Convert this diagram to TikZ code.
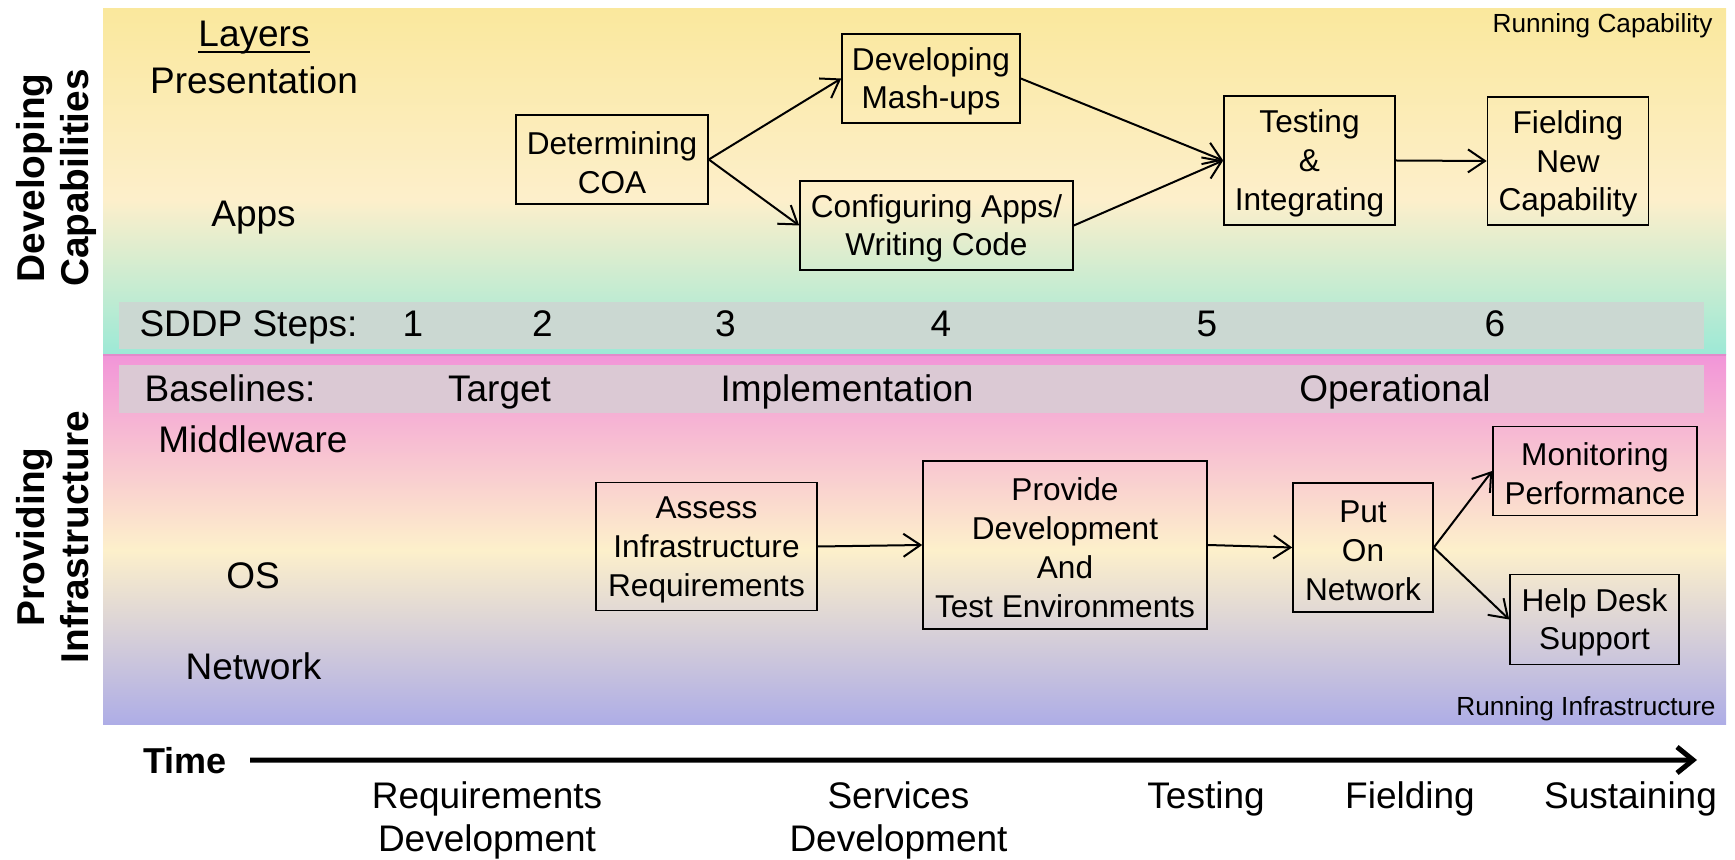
\documentclass[tikz,border=0pt]{standalone}
\usepackage{fontspec}
\setmainfont{Liberation Sans}
\usetikzlibrary{arrows.meta}
\definecolor{uptop}{HTML}{FAE89D}
\definecolor{upmid}{HTML}{FDEFCB}
\definecolor{upbot}{HTML}{9CE9D6}
\definecolor{lotop}{HTML}{F295D8}
\definecolor{lomid}{HTML}{FDF0CB}
\definecolor{lobot}{HTML}{AEADE6}
\definecolor{bandA}{HTML}{CBD8D2}
\definecolor{bandB}{HTML}{DBC9D4}
\definecolor{sepline}{HTML}{E28ACB}
\pgfdeclareverticalshading{uppershade}{100bp}{color(0bp)=(upbot); color(25bp)=(upbot); color(47.4bp)=(upmid); color(75bp)=(uptop); color(100bp)=(uptop)}
\pgfdeclareverticalshading{lowershade}{100bp}{color(0bp)=(lobot); color(25bp)=(lobot); color(48.6bp)=(lomid); color(75bp)=(lotop); color(100bp)=(lotop)}
\newcommand{\myul}[1]{\setbox0\hbox{#1}\rlap{\rule[-3.3pt]{\wd0}{1.1pt}}\box0}
\newcommand{\fstrut}{\rule{0pt}{14.3pt}}
\begin{document}
\begin{tikzpicture}[x=0.5pt,y=-0.5pt,
  lbl/.style={font=\fontsize{18.5}{22}\selectfont, inner sep=0pt, anchor=base},
  twolbl/.style={font=\fontsize{18.5}{21.5}\selectfont, inner sep=0pt, anchor=north, align=center},
  boxnode/.style={draw, line width=0.8pt, align=center, inner sep=0pt, font=\fontsize{15.8}{19.4}\selectfont},
  arr/.style={line width=1pt, -{Straight Barb[length=8.5pt,width=11.5pt]}},
  side/.style={rotate=90, align=center, inner sep=0pt, font=\fontsize{19.4}{22}\selectfont\bfseries},
  small/.style={font=\fontsize{13.1}{15}\selectfont, inner sep=0pt, anchor=base east}
]
\useasboundingbox (0,0) rectangle (1735,860);
% panels
\shade[shading=uppershade] (103,9) rectangle (1726,355);
\shade[shading=lowershade] (103,355) rectangle (1726,724);
\draw[sepline, line width=1pt] (103,355) -- (1726,355);
\fill[bandA] (119,302) rectangle (1704,349);
\fill[bandB] (119,365) rectangle (1704,413);
% side labels
\node[side] (devcap) at (56.5,178) {Developing\\Capabilities};
\node[side] (provinf) at (53,537) {Providing\\Infrastructure};
% layer labels
\node[lbl] (layers) at (254,46.5) {\myul{Layers}};
\node[lbl] (pres) at (254,93.5) {Presentation};
\node[lbl] (apps) at (253.5,226.5) {Apps};
\node[lbl] (mid) at (253,453) {Middleware};
\node[lbl] (os) at (253,589) {OS};
\node[lbl] (net) at (253.5,680) {Network};
% SDDP steps
\node[lbl] (sddp) at (248.5,337) {SDDP Steps:};
\node[lbl] (s1) at (413,337) {1};
\node[lbl] (s2) at (542.5,337) {2};
\node[lbl] (s3) at (725.5,337) {3};
\node[lbl] (s4) at (941,337) {4};
\node[lbl] (s5) at (1207,337) {5};
\node[lbl] (s6) at (1495,337) {6};
% baselines
\node[lbl] (base) at (230,402) {Baselines:};
\node[lbl] (target) at (499.5,402) {Target};
\node[lbl] (impl) at (847,402) {Implementation};
\node[lbl] (oper) at (1395,402) {Operational};
% running labels
\node[small] (runcap) at (1713,33) {Running Capability};
\node[small] (runinf) at (1716,715) {Running Infrastructure};
% upper boxes
\node[boxnode, minimum width=96pt, minimum height=44.5pt] (coa) at (612,159.5) {\fstrut Determining\\COA};
\node[boxnode, minimum width=89pt, minimum height=44.5pt] (mash) at (931,78.5) {\fstrut Developing\\Mash-ups};
\node[boxnode, minimum width=136.5pt, minimum height=44.5pt] (conf) at (936.5,225.5) {\fstrut Configuring Apps/\\Writing Code};
\node[boxnode, minimum width=85.5pt, minimum height=64.5pt] (test) at (1309.5,160.5) {\fstrut Testing\\\&\\Integrating};
\node[boxnode, minimum width=80.5pt, minimum height=64pt] (field) at (1568,161) {\fstrut Fielding\\New\\Capability};
% lower boxes
\node[boxnode, minimum width=110.5pt, minimum height=64pt] (assess) at (706.5,546.5) {\fstrut Assess\\Infrastructure\\Requirements};
\node[boxnode, minimum width=142pt, minimum height=84pt] (provide) at (1065,545) {\fstrut Provide\\Development\\And\\Test Environments};
\node[boxnode, minimum width=70pt, minimum height=64.5pt] (put) at (1363,547.5) {\fstrut Put\\On\\Network};
\node[boxnode, minimum width=102pt, minimum height=44.5pt] (mon) at (1595,471) {\fstrut Monitoring\\Performance};
\node[boxnode, minimum width=84.5pt, minimum height=45pt] (help) at (1594.5,619.5) {\fstrut Help Desk\\Support};
% connectors
\draw[arr] (coa.east) -- (mash.west);
\draw[arr] (coa.east) -- (conf.west);
\draw[arr] (mash.east) -- (test.west);
\draw[arr] (conf.east) -- (test.west);
\draw[arr] (test.east) -- (field.west);
\draw[arr] (assess.east) -- (provide.west);
\draw[arr] (provide.east) -- (put.west);
\draw[arr] (put.east) -- (mon.west);
\draw[arr] (put.east) -- (help.west);
% time axis
\node[font=\fontsize{18}{21}\selectfont\bfseries, inner sep=0pt, anchor=base west] (time) at (143,773) {Time};
\coordinate (tend) at (1697,760);
\draw[line width=2.5pt, -{Straight Barb[length=8pt,width=13pt,line join=miter]}] ([xshift=11.5pt]time.east) -- (tend);
\node[twolbl] (reqdev) at (487,781) {Requirements\\Development};
\node[twolbl] (servdev) at (898.5,781) {Services\\Development};
\node[lbl] (testing) at (1206,808) {Testing};
\node[lbl] (fielding) at (1410,808) {Fielding};
\node[lbl] (sustain) at (1630.5,808) {Sustaining};
\end{tikzpicture}
\end{document}
